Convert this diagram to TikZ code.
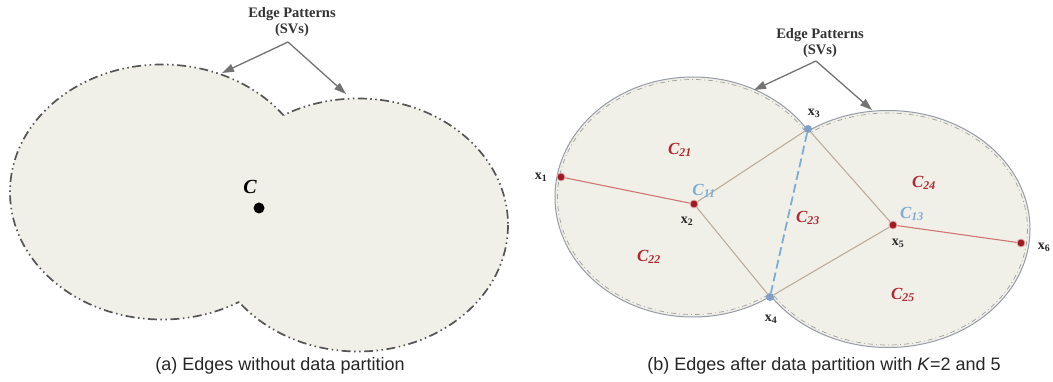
\documentclass[tikz,border=0pt]{standalone}
\usepackage{fontspec}
\setmainfont{Liberation Serif}
\setsansfont{Liberation Sans}
\usetikzlibrary{arrows.meta}
\definecolor{fillc}{RGB}{241,240,232}
\definecolor{edgea}{RGB}{85,85,85}
\definecolor{edgeb}{RGB}{150,156,166}
\definecolor{redl}{RGB}{178,40,52}
\definecolor{dotred}{RGB}{160,26,34}
\definecolor{bluel}{RGB}{125,172,215}
\definecolor{dotblue}{RGB}{128,158,198}
\definecolor{tanl}{RGB}{188,172,156}
\definecolor{pinkl}{RGB}{205,118,118}
\definecolor{arrowc}{RGB}{115,115,115}
\begin{document}
\begin{tikzpicture}[x=1pt,y=-1pt,
  outlinea/.style={draw=edgea, line width=1.7pt, dash pattern=on 9pt off 3.5pt on 1.5pt off 3.5pt on 1.5pt off 3.5pt},
  outlineb/.style={draw=edgeb, line width=1pt},
  outlinebdash/.style={draw=gray!75, line width=0.7pt, dash pattern=on 5pt off 3pt on 1pt off 3pt},
  svarrow/.style={draw=arrowc, line width=1.3pt, -{Triangle[length=12pt,width=8pt]}},
  svlabel/.style={font=\fontsize{14.5}{16.5}\selectfont\bfseries, text=black!80, align=center, inner sep=0pt},
  caption/.style={font=\sffamily\fontsize{18}{20}\selectfont, text=black!85, inner sep=0pt},
  reddot/.style={circle, fill=dotred, draw=pinkl!60, line width=0.8pt, inner sep=0pt, minimum size=8pt},
  bluedot/.style={circle, fill=dotblue, inner sep=0pt, minimum size=8pt},
  xlab/.style={font=\fontsize{14}{16}\selectfont\bfseries, text=black!85, inner sep=0pt},
  clab/.style={font=\fontsize{17}{19}\selectfont\bfseries\itshape, text=redl, inner sep=0pt},
  cblue/.style={font=\fontsize{17}{19}\selectfont\bfseries\itshape, text=bluel, inner sep=0pt},
  redline/.style={draw=pinkl, line width=1.1pt},
  tanline/.style={draw=tanl, line width=1.1pt},
  blueline/.style={draw=bluel, line width=1.8pt, dash pattern=on 9pt off 4pt}
]
\useasboundingbox[fill=white] (0,0) rectangle (1053,382);

% ---------------- panel (a)
\fill[fillc] (162,192) ellipse [x radius=152, y radius=127.5];
\fill[fillc] (358,225) ellipse [x radius=150, y radius=126.5];
\begin{scope}[even odd rule]
  \clip (0,0) -- (0,382) -- (1053,382) -- (1053,0) -- cycle
        (358,225) ellipse [x radius=150, y radius=126.5];
  \draw[outlinea] (162,192) ellipse [x radius=152, y radius=127.5];
\end{scope}
\begin{scope}[even odd rule]
  \clip (0,0) -- (0,382) -- (1053,382) -- (1053,0) -- cycle
        (162,192) ellipse [x radius=152, y radius=127.5];
  \draw[outlinea] (358,225) ellipse [x radius=150, y radius=126.5];
\end{scope}

\node[circle, fill=black, inner sep=0pt, minimum size=11pt] (cdot) at (259,208) {};
\node[font=\fontsize{20}{22}\selectfont\bfseries\itshape, inner sep=0pt] (clabel) at (250,187) {C};

\node[svlabel] (epa) at (292,22) {Edge Patterns\\(SVs)};
\coordinate (sa) at (288,42);
\coordinate (ea1) at (222,73);
\coordinate (ea2) at (346,94);
\draw[svarrow] (sa) -- (ea1);
\draw[svarrow] (sa) -- (ea2);

\node[caption] (capa) at (280,366) {(a) Edges without data partition};

% ---------------- panel (b)
\fill[fillc] (693,197) ellipse [x radius=138, y radius=120];
\fill[fillc] (888,229) ellipse [x radius=142, y radius=118.5];
\begin{scope}[even odd rule]
  \clip (0,0) -- (0,382) -- (1053,382) -- (1053,0) -- cycle
        (888,229) ellipse [x radius=142, y radius=118.5];
  \draw[outlineb] (693,197) ellipse [x radius=138, y radius=120];
  \draw[outlinebdash] (693,197) ellipse [x radius=135.5, y radius=117.5];
\end{scope}
\begin{scope}[even odd rule]
  \clip (0,0) -- (0,382) -- (1053,382) -- (1053,0) -- cycle
        (693,197) ellipse [x radius=138, y radius=120];
  \draw[outlineb] (888,229) ellipse [x radius=142, y radius=118.5];
  \draw[outlinebdash] (888,229) ellipse [x radius=139.5, y radius=116];
\end{scope}

\node[reddot] (x1) at (561,177) {};
\node[reddot] (x2) at (694,204) {};
\node[bluedot] (x3) at (808,129) {};
\node[bluedot] (x4) at (770,297) {};
\node[reddot] (x5) at (893,225) {};
\node[reddot] (x6) at (1021,243) {};

\draw[redline] (x1) -- (x2);
\draw[tanline] (x2) -- (x3);
\draw[tanline] (x2) -- (x4);
\draw[tanline] (x3) -- (x5);
\draw[tanline] (x4) -- (x5);
\draw[redline] (x5) -- (x6);
\draw[blueline] (x3) -- (x4);

\node[xlab] (lx1) at (541,177) {x\textsubscript{1}};
\node[xlab] (lx2) at (687,221) {x\textsubscript{2}};
\node[xlab] (lx3) at (814,113) {x\textsubscript{3}};
\node[xlab] (lx4) at (771,319) {x\textsubscript{4}};
\node[xlab] (lx5) at (898,243) {x\textsubscript{5}};
\node[xlab] (lx6) at (1044,247) {x\textsubscript{6}};

\node[cblue] (c11) at (704,191) {C\textsubscript{11}};
\node[cblue] (c13) at (912,214) {C\textsubscript{13}};
\node[clab] (c21) at (680,150) {C\textsubscript{21}};
\node[clab] (c22) at (649,257) {C\textsubscript{22}};
\node[clab] (c23) at (808,218) {C\textsubscript{23}};
\node[clab] (c24) at (924,183) {C\textsubscript{24}};
\node[clab] (c25) at (903,295) {C\textsubscript{25}};

\node[svlabel] (epb) at (820,43) {Edge Patterns\\(SVs)};
\coordinate (sb) at (816,61);
\coordinate (eb1) at (754,90);
\coordinate (eb2) at (872,110);
\draw[svarrow] (sb) -- (eb1);
\draw[svarrow] (sb) -- (eb2);

\node[caption] (capb) at (824,366) {(b) Edges after data partition with \textit{K}=2 and 5};
\end{tikzpicture}
\end{document}
